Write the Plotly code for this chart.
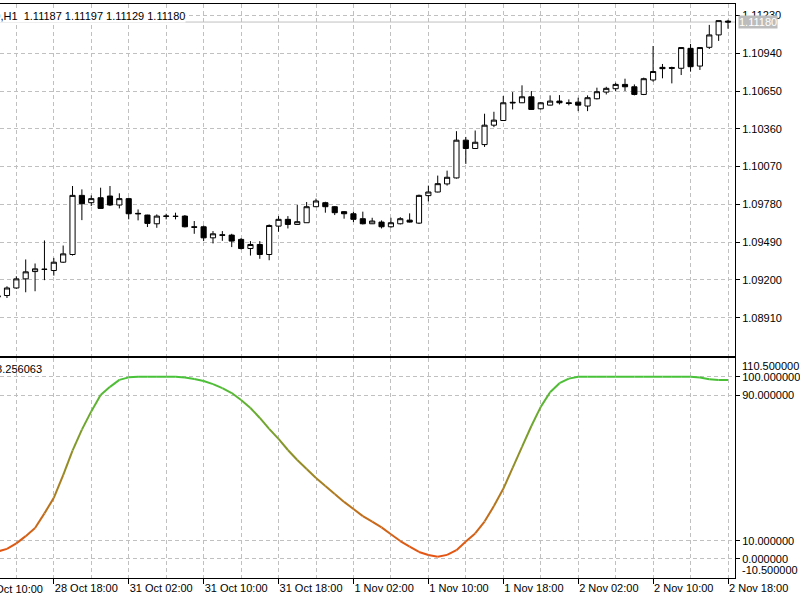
import plotly.graph_objects as go

# ---------------- data (bar index, H1 bars) ----------------
bars = list(range(-1, 78))
opens = [1.09068, 1.09080, 1.09138, 1.09208, 1.09264, 1.09280, 1.09272, 1.09336, 1.09395, 1.09849,
         1.09793, 1.09831, 1.09844, 1.09775, 1.09824, 1.09711, 1.09698, 1.09631, 1.09688, 1.09688,
         1.09690, 1.09608, 1.09608, 1.09523, 1.09546, 1.09544, 1.09511, 1.09441, 1.09472, 1.09395,
         1.09613, 1.09665, 1.09626, 1.09639, 1.09762, 1.09793, 1.09762, 1.09724, 1.09708, 1.09670,
         1.09631, 1.09644, 1.09608, 1.09631, 1.09659, 1.09636, 1.09847, 1.09875, 1.09937, 1.09983,
         1.10273, 1.10209, 1.10239, 1.10388, 1.10424, 1.10558, 1.10560, 1.10606, 1.10514, 1.10542,
         1.10573, 1.10560, 1.10565, 1.10535, 1.10591, 1.10642, 1.10668, 1.10701, 1.10683, 1.10624,
         1.10735, 1.10832, 1.10830, 1.10825, 1.10978, 1.10842, 1.10986, 1.11081, 1.11187]
highs = [1.09085, 1.09151, 1.09228, 1.09357, 1.09326, 1.09503, 1.09369, 1.09464, 1.09921, 1.09895,
         1.09849, 1.09908, 1.09921, 1.09865, 1.09831, 1.09741, 1.09700, 1.09703, 1.09708, 1.09716,
         1.09698, 1.09652, 1.09618, 1.09575, 1.09575, 1.09554, 1.09521, 1.09498, 1.09498, 1.09626,
         1.09690, 1.09690, 1.09775, 1.09798, 1.09824, 1.09800, 1.09767, 1.09729, 1.09724, 1.09724,
         1.09677, 1.09657, 1.09677, 1.09682, 1.09711, 1.09855, 1.09924, 1.10001, 1.10039, 1.10342,
         1.10298, 1.10347, 1.10476, 1.10491, 1.10612, 1.10642, 1.10694, 1.10650, 1.10565, 1.10617,
         1.10619, 1.10586, 1.10599, 1.10617, 1.10676, 1.10683, 1.10714, 1.10745, 1.10701, 1.10753,
         1.10996, 1.10858, 1.10837, 1.10986, 1.11012, 1.10986, 1.11158, 1.11191, 1.11197]
lows = [1.09050, 1.09061, 1.09131, 1.09105, 1.09113, 1.09198, 1.09233, 1.09331, 1.09387, 1.09659,
        1.09767, 1.09747, 1.09767, 1.09749, 1.09665, 1.09657, 1.09606, 1.09600, 1.09665, 1.09665,
        1.09603, 1.09554, 1.09498, 1.09480, 1.09500, 1.09452, 1.09434, 1.09387, 1.09362, 1.09351,
        1.09570, 1.09595, 1.09623, 1.09639, 1.09759, 1.09716, 1.09698, 1.09670, 1.09644, 1.09626,
        1.09629, 1.09595, 1.09600, 1.09626, 1.09641, 1.09629, 1.09803, 1.09872, 1.09924, 1.09978,
        1.10091, 1.10206, 1.10221, 1.10373, 1.10422, 1.10509, 1.10558, 1.10506, 1.10509, 1.10540,
        1.10547, 1.10540, 1.10496, 1.10496, 1.10586, 1.10624, 1.10650, 1.10650, 1.10617, 1.10619,
        1.10722, 1.10748, 1.10709, 1.10773, 1.10799, 1.10812, 1.10973, 1.11035, 1.11129]
closes = [1.09078, 1.09138, 1.09208, 1.09262, 1.09285, 1.09282, 1.09336, 1.09400, 1.09849, 1.09785,
          1.09824, 1.09749, 1.09775, 1.09824, 1.09708, 1.09708, 1.09634, 1.09690, 1.09690, 1.09688,
          1.09608, 1.09604, 1.09523, 1.09554, 1.09543, 1.09498, 1.09441, 1.09472, 1.09395, 1.09618,
          1.09665, 1.09626, 1.09647, 1.09762, 1.09806, 1.09762, 1.09716, 1.09708, 1.09665, 1.09631,
          1.09652, 1.09608, 1.09639, 1.09670, 1.09644, 1.09849, 1.09875, 1.09939, 1.09988, 1.10273,
          1.10209, 1.10257, 1.10388, 1.10427, 1.10560, 1.10563, 1.10606, 1.10509, 1.10560, 1.10573,
          1.10560, 1.10555, 1.10542, 1.10599, 1.10645, 1.10671, 1.10701, 1.10683, 1.10624, 1.10745,
          1.10800, 1.10822, 1.10825, 1.10984, 1.10837, 1.10984, 1.11081, 1.11191, 1.11180]
osc = [4.0, 5.5, 8.5, 12.5, 17.0, 25.0, 33.5, 46.0, 59.5, 71.0,
       81.0, 90.0, 94.5, 98.3, 99.7, 100.0, 100.0, 100.0, 100.0, 100.0,
       99.6, 98.8, 97.7, 96.0, 93.8, 91.1, 87.3, 82.9, 77.4, 71.4,
       65.9, 59.8, 54.3, 49.4, 44.4, 40.0, 35.6, 31.3, 27.4, 23.5,
       20.5, 17.3, 13.5, 9.8, 6.7, 3.8, 2.1, 1.2, 2.2, 4.8,
       9.5, 14.0, 20.5, 29.0, 38.5, 50.0, 61.5, 73.0, 83.5, 91.5,
       96.5, 99.0, 100.0, 100.0, 100.0, 100.0, 100.0, 100.0, 100.0, 100.0,
       100.0, 100.0, 100.0, 100.0, 100.0, 99.6, 98.7, 98.3, 98.256063]

price_ticks = [1.08910, 1.09200, 1.09490, 1.09780, 1.10070, 1.10360, 1.10650, 1.10940, 1.11230]
osc_ticks = [0, 10, 90, 100]
osc_extra_labels = [110.5, -10.5]
time_label_bars = [5, 13, 21, 29, 37, 45, 53, 61, 69, 77]
time_labels = ["28 Oct 18:00", "31 Oct 02:00", "31 Oct 10:00", "31 Oct 18:00", "1 Nov 02:00",
               "1 Nov 10:00", "1 Nov 18:00", "2 Nov 02:00", "2 Nov 10:00", "2 Nov 18:00"]
first_cut_label = (-3, "28 Oct 10:00")
grid_minor_bars = [1, 9, 17, 25, 33, 41, 49, 57, 65, 73]
symbol = "EURUSD,H1"

# ---------------- styling ----------------
FONT = "Liberation Sans, Arial, sans-serif"
GRID = "#c0c0c0"
GDASH = "4px,3px"
XR = [-0.7455, 77.746]
PR = [1.086159, 1.113185]
OR = [-10.5, 110.5]
MAIN_DOM = [0.3868, 1.0]
OSC_DOM = [0.0, 0.3838]


def osc_color(v):
    t = max(0.0, min(1.0, v / 100.0))
    lo = (232, 82, 18)
    hi = (72, 194, 56)
    r, g, b = (int(round(lo[k] + (hi[k] - lo[k]) * t)) for k in range(3))
    return f"rgb({r},{g},{b})"


fig = go.Figure()

fig.add_trace(go.Candlestick(
    x=bars, open=opens, high=highs, low=lows, close=closes,
    increasing=dict(fillcolor="white", line=dict(color="black", width=1)),
    decreasing=dict(fillcolor="black", line=dict(color="black", width=1)),
    whiskerwidth=0, xaxis="x", yaxis="y", showlegend=False, hoverinfo="skip"))

for i in range(len(bars) - 1):
    fig.add_trace(go.Scatter(
        x=[bars[i], bars[i + 1]], y=[osc[i], osc[i + 1]], mode="lines",
        line=dict(color=osc_color((osc[i] + osc[i + 1]) / 2), width=2),
        xaxis="x2", yaxis="y2", showlegend=False, hoverinfo="skip"))

axis_font = dict(family=FONT, size=11, color="black")
minor_grid = dict(tickvals=grid_minor_bars, showgrid=True, gridcolor=GRID, griddash=GDASH, ticks="")

fig.update_layout(
    width=800, height=600,
    margin=dict(l=0, r=63, t=4, b=22),
    paper_bgcolor="white", plot_bgcolor="white",
    font=axis_font, showlegend=False,
    boxgap=0.45, boxgroupgap=0,
    xaxis=dict(domain=[0, 1], anchor="y", range=XR, rangeslider=dict(visible=False),
               tickvals=time_label_bars, showticklabels=False, ticks="",
               showgrid=True, gridcolor=GRID, griddash=GDASH, minor=minor_grid,
               showline=True, linecolor="black", linewidth=1, mirror=True, zeroline=False),
    yaxis=dict(domain=MAIN_DOM, anchor="x", side="right", range=PR,
               tickvals=price_ticks, ticktext=[f"{p:.5f}" for p in price_ticks],
               ticks="outside", ticklen=4, tickcolor="black",
               showgrid=True, gridcolor=GRID, griddash=GDASH,
               showline=True, linecolor="black", linewidth=1, zeroline=False),
    xaxis2=dict(domain=[0, 1], anchor="y2", range=XR,
                tickvals=time_label_bars, ticktext=time_labels,
                ticklabelposition="outside right",
                ticks="outside", ticklen=5, tickcolor="black",
                showgrid=True, gridcolor=GRID, griddash=GDASH, minor=minor_grid,
                showline=True, linecolor="black", linewidth=1, mirror=True, zeroline=False),
    yaxis2=dict(domain=OSC_DOM, anchor="x2", side="right", range=OR,
                tickvals=osc_ticks, ticktext=[f"{v:.6f}" for v in osc_ticks],
                ticks="outside", ticklen=4, tickcolor="black",
                showgrid=True, gridcolor=GRID, griddash=GDASH,
                showline=True, linecolor="black", linewidth=1, zeroline=False),
)

# bid line
fig.add_shape(type="line", xref="paper", x0=0, x1=1, yref="y", y0=closes[-1], y1=closes[-1],
              line=dict(color="#c0c0c0", width=1), layer="below")

anns = []
# current price label box
anns.append(dict(xref="paper", x=1, xanchor="left", xshift=3, yref="y", y=closes[-1],
                 yanchor="middle", text=f"{closes[-1]:.5f}", showarrow=False,
                 bgcolor="#bcbcbc", borderpad=0, font=dict(family=FONT, size=11, color="white")))
# top-left OHLC info
info = f"{symbol}  {opens[-1]:.5f} {highs[-1]:.5f} {lows[-1]:.5f} {closes[-1]:.5f}"
anns.append(dict(xref="paper", x=187 / 737, xanchor="right", yref="paper", y=0.9796,
                 yanchor="middle", text=info, showarrow=False, bgcolor="white", borderpad=0,
                 font=axis_font))
# indicator current value label
anns.append(dict(xref="paper", x=44 / 737, xanchor="right", yref="paper", y=0.3641,
                 yanchor="middle", text=f"{osc[-1]:.6f}", showarrow=False, font=axis_font))
# extreme labels of the oscillator scale
anns.append(dict(xref="paper", x=1, xanchor="left", xshift=5, yref="y2", y=osc_extra_labels[0],
                 yanchor="top", text=f"{osc_extra_labels[0]:.6f}", showarrow=False, font=axis_font))
anns.append(dict(xref="paper", x=1, xanchor="left", xshift=5, yref="y2", y=osc_extra_labels[1],
                 yanchor="bottom", text=f"{osc_extra_labels[1]:.6f}", showarrow=False, font=axis_font))
# partially visible first time label
cut_x = (first_cut_label[0] - XR[0]) / (XR[1] - XR[0])
anns.append(dict(xref="paper", x=cut_x, xanchor="left", xshift=-1, yref="paper", y=0,
                 yanchor="top", yshift=-3, text=first_cut_label[1], showarrow=False, font=axis_font))
fig.update_layout(annotations=anns)

fig.write_html("out.html")
